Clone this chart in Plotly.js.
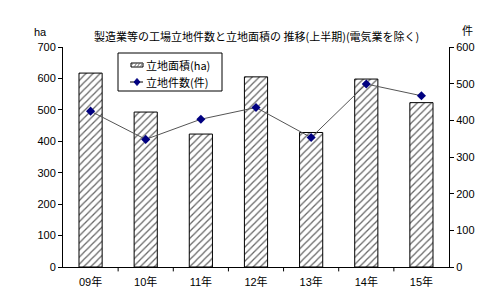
<!DOCTYPE html>
<html><head><meta charset="utf-8">
<script src="https://cdn.plot.ly/plotly-3.0.1.min.js"></script>
<style>body{margin:0;background:#fff}#c{width:500px;height:300px}</style>
</head><body><div id="c"></div>
<script>
const categories = ["09年","10年","11年","12年","13年","14年","15年"];
const areaHa = [617, 493, 423, 605, 428, 598, 523];
const counts = [425, 348, 403, 435, 353, 499, 467];
const seriesNames = ['立地面積(ha)', '立地件数(件)'];
const F = '"Liberation Sans", Arial, "Noto Sans CJK JP", sans-serif';
const J = '"Noto Sans CJK JP", sans-serif';

const traces = [
  {type:'bar', x:categories, y:areaHa, name:seriesNames[0], width:0.42, showlegend:false,
   marker:{color:'#ffffff', line:{color:'#000', width:1},
           pattern:{shape:'/', fgcolor:'#666', bgcolor:'#fff', size:5, solidity:0.25}}},
  {type:'scatter', mode:'lines+markers', x:categories, y:counts, yaxis:'y2', name:seriesNames[1], showlegend:false,
   line:{color:'#555', width:1}, marker:{symbol:'diamond', color:'#000080', size:7}}
];
// custom legend geometry (plot area px -> paper)
const L=63, W=386, B=267, H=220;
const px = v => (v-L)/W, py = v => (B-v)/H;
const shapes = categories.slice(0,-1).map((c,i)=>({type:'line', xref:'x', yref:'paper', x0:i+0.5, x1:i+0.5, y0:0, y1:-0.02, line:{color:'#000', width:1}}));
shapes.push({type:'rect', xref:'paper', yref:'paper', x0:px(118), x1:px(222), y0:py(91), y1:py(53), line:{color:'#000', width:1}, fillcolor:'#fff'});
shapes.push({type:'rect', xref:'paper', yref:'paper', x0:px(131), x1:px(143), y0:py(67), y1:py(63), line:{color:'#000', width:1}, fillcolor:'#fff'});
// hatch inside legend swatch
shapes.push({type:'path', xref:'paper', yref:'paper', xsizemode:'pixel', ysizemode:'pixel', xanchor:px(131), yanchor:py(67),
  path:'M0,1 L2,4 M3,0 L6,4 M6,0 L9,4 M9,0 L12,4', line:{color:'#666', width:1}});
shapes.push({type:'line', xref:'paper', yref:'paper', x0:px(130), x1:px(143), y0:py(82), y1:py(82), line:{color:'#000', width:1}});
shapes.push({type:'path', xref:'paper', yref:'paper', xsizemode:'pixel', ysizemode:'pixel', xanchor:px(137), yanchor:py(82), path:'M0,3.5 L3,0 L0,-3.5 L-3,0 Z', fillcolor:'#000080', line:{color:'#000080', width:1}});

const layout = {
  width:500, height:300, margin:{l:63, r:51, t:47, b:33},
  paper_bgcolor:'#fff', plot_bgcolor:'#fff',
  font:{family:F, size:11, color:'#000'},
  showlegend:false,
  xaxis:{showline:true, linecolor:'#000', ticks:'', showgrid:false, tickfont:{size:11, family:F}, ticklabelstandoff:5},
  yaxis:{range:[0,700], dtick:100, showline:true, linecolor:'#000', ticks:'outside', ticklen:4,
         tickcolor:'#000', showgrid:false, zeroline:false, tickfont:{size:11}},
  yaxis2:{range:[0,600], dtick:100, overlaying:'y', side:'right', showline:true, linecolor:'#000',
          ticks:'outside', ticklen:4, tickcolor:'#000', showgrid:false, zeroline:false, tickfont:{size:11}},
  shapes: shapes,
  annotations:[
    {text:'製造業等の工場立地件数と立地面積の 推移(上半期)(電気業を除く)', xref:'paper', yref:'paper', x:0.5, y:1.005, xanchor:'center', yanchor:'bottom', showarrow:false, font:{size:11, family:J}},
    {text:'ha', xref:'paper', yref:'paper', x:px(40), y:1.03, xanchor:'center', yanchor:'bottom', showarrow:false, font:{size:11}},
    {text:'件', xref:'paper', yref:'paper', x:px(467), y:1.03, xanchor:'center', yanchor:'bottom', showarrow:false, font:{size:11, family:J}},
    {text:seriesNames[0], xref:'paper', yref:'paper', x:px(144), y:py(65), xanchor:'left', yanchor:'middle', showarrow:false, font:{size:11, family:J}},
    {text:seriesNames[1], xref:'paper', yref:'paper', x:px(144), y:py(82), xanchor:'left', yanchor:'middle', showarrow:false, font:{size:11, family:J}}
  ]
};
Plotly.newPlot('c', traces, layout, {displayModeBar:false, staticPlot:true});
</script></body></html>
